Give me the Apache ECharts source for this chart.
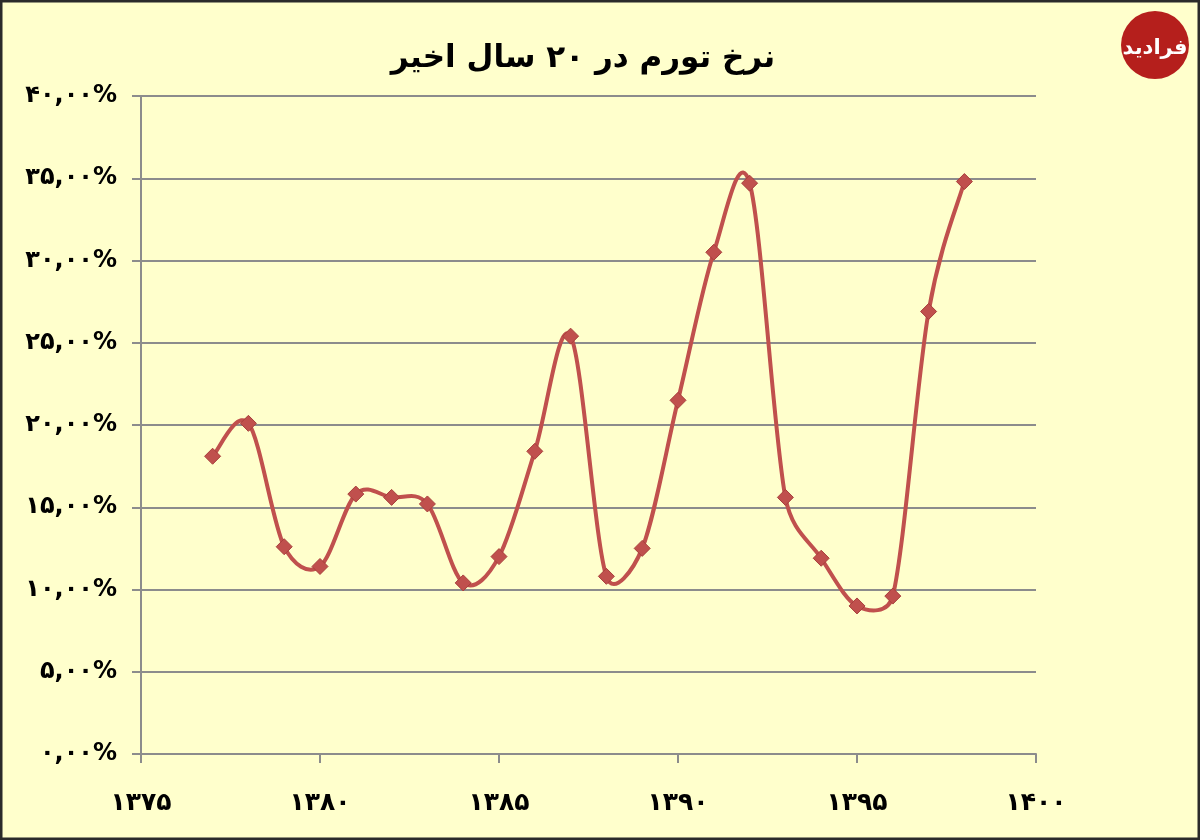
<!DOCTYPE html>
<html>
<head>
<meta charset="utf-8">
<title>نرخ تورم</title>
<script src="https://cdn.jsdelivr.net/npm/echarts@6/dist/echarts.min.js"></script>
<style>
	html, body { margin: 0; padding: 0; background: #ffffcc; }
	#chart { width: 1200px; height: 840px; }
</style>
</head>
<body>
<div id="chart"></div>
<script>
// سال‌ها و نرخ تورم (درصد)
var years = [1377, 1378, 1379, 1380, 1381, 1382, 1383, 1384, 1385, 1386, 1387,
		1388, 1389, 1390, 1391, 1392, 1393, 1394, 1395, 1396, 1397, 1398];
var inflation = [18.1, 20.1, 12.6, 11.4, 15.8, 15.6, 15.2, 10.4, 12.0, 18.4, 25.4,
		10.8, 12.5, 21.5, 30.5, 34.7, 15.6, 11.9, 9.0, 9.6, 26.9, 34.8];
var titleText = 'نرخ تورم در ۲۰ سال اخیر';
var logoText = 'فرادید';

// تبدیل ارقام به فارسی
function faDigits(s) {
	return String(s).replace(/[0-9]/g, function(d) {
		return '۰۱۲۳۴۵۶۷۸۹'.charAt(+d);
	});
}

var points = [];
for (var i = 0; i < years.length; i++) {
	points.push([ years[i], inflation[i] ]);
}

function dist(a, b) {
	return Math.sqrt((a[0] - b[0]) * (a[0] - b[0]) + (a[1] - b[1]) * (a[1] - b[1]));
}

// منحنی هموار شبیه اکسل: Catmull-Rom با سقف نصف طول قطعه
function renderSegment(params, api) {
	var i = params.dataIndex;
	if (i >= points.length - 1) {
		return null;
	}
	var p0 = api.coord(points[Math.max(i - 1, 0)]);
	var p1 = api.coord(points[i]);
	var p2 = api.coord(points[i + 1]);
	var p3 = api.coord(points[Math.min(i + 2, points.length - 1)]);
	var d12 = dist(p1, p2), d02 = dist(p0, p2), d13 = dist(p1, p3);
	var f1 = 1 / 6, f2 = 1 / 6;
	if (d02 / 6 > d12 / 2) {
		f1 = d12 / 2 / d02;
	}
	if (d13 / 6 > d12 / 2) {
		f2 = d12 / 2 / d13;
	}
	return {
		type : 'bezierCurve',
		shape : {
			x1 : p1[0],
			y1 : p1[1],
			x2 : p2[0],
			y2 : p2[1],
			cpx1 : p1[0] + (p2[0] - p0[0]) * f1,
			cpy1 : p1[1] + (p2[1] - p0[1]) * f1,
			cpx2 : p2[0] - (p3[0] - p1[0]) * f2,
			cpy2 : p2[1] - (p3[1] - p1[1]) * f2
		},
		style : {
			fill : null,
			stroke : '#c0504d',
			lineWidth : 4,
			lineCap : 'round'
		}
	};
}

var font = 'DejaVu Sans';
var chart = echarts.init(document.getElementById('chart'));
chart.setOption({
	backgroundColor : '#ffffcc',
	animation : false,
	title : {
		text : titleText,
		left : 578,
		top : 38,
		textAlign : 'center',
		textStyle : {
			fontFamily : font,
			fontSize : 31,
			fontWeight : 'bold',
			color : '#000'
		}
	},
	grid : {
		left : 141,
		right : 164,
		top : 96,
		bottom : 86
	},
	xAxis : {
		type : 'value',
		min : 1375,
		max : 1400,
		interval : 5,
		axisLine : {
			lineStyle : { color : '#8c8c8c', width : 2 }
		},
		axisTick : {
			show : true,
			length : 9,
			lineStyle : { color : '#8c8c8c', width : 2 }
		},
		splitLine : { show : false },
		axisLabel : {
			margin : 37,
			fontFamily : font,
			fontSize : 25,
			fontWeight : 'bold',
			color : '#000',
			formatter : function(v) {
				return faDigits(v);
			}
		}
	},
	yAxis : {
		type : 'value',
		min : 0,
		max : 40,
		interval : 5,
		axisLine : {
			show : true,
			lineStyle : { color : '#8c8c8c', width : 2 }
		},
		axisTick : {
			show : true,
			length : 9,
			lineStyle : { color : '#8c8c8c', width : 2 }
		},
		splitLine : {
			lineStyle : { color : '#8c8c8c', width : 2 }
		},
		axisLabel : {
			margin : 24,
			fontFamily : font,
			fontSize : 24,
			fontWeight : 'bold',
			color : '#000',
			formatter : function(v) {
				return faDigits(v.toFixed(2).replace('.', ',')) + '%';
			}
		}
	},
	series : [ {
		type : 'custom',
		data : points,
		renderItem : renderSegment,
		silent : true,
		z : 2
	}, {
		type : 'scatter',
		data : points,
		symbol : 'diamond',
		symbolSize : 16,
		itemStyle : {
			color : '#c0504d',
			borderColor : '#a83f3c',
			borderWidth : 1,
			opacity : 1
		},
		z : 3
	} ],
	graphic : [ {
		type : 'rect',
		shape : { x : 1, y : 1, width : 1198, height : 838 },
		style : { fill : 'none', stroke : '#2b2b2b', lineWidth : 3 },
		silent : true
	}, {
		type : 'circle',
		shape : { cx : 1155, cy : 45, r : 34 },
		style : { fill : '#b51f1c' },
		silent : true
	}, {
		type : 'text',
		x : 1155,
		y : 49,
		style : {
			text : logoText,
			fill : '#fff',
			font : 'bold 21px "DejaVu Sans"',
			align : 'center',
			verticalAlign : 'middle'
		},
		silent : true
	} ]
});
</script>
</body>
</html>
